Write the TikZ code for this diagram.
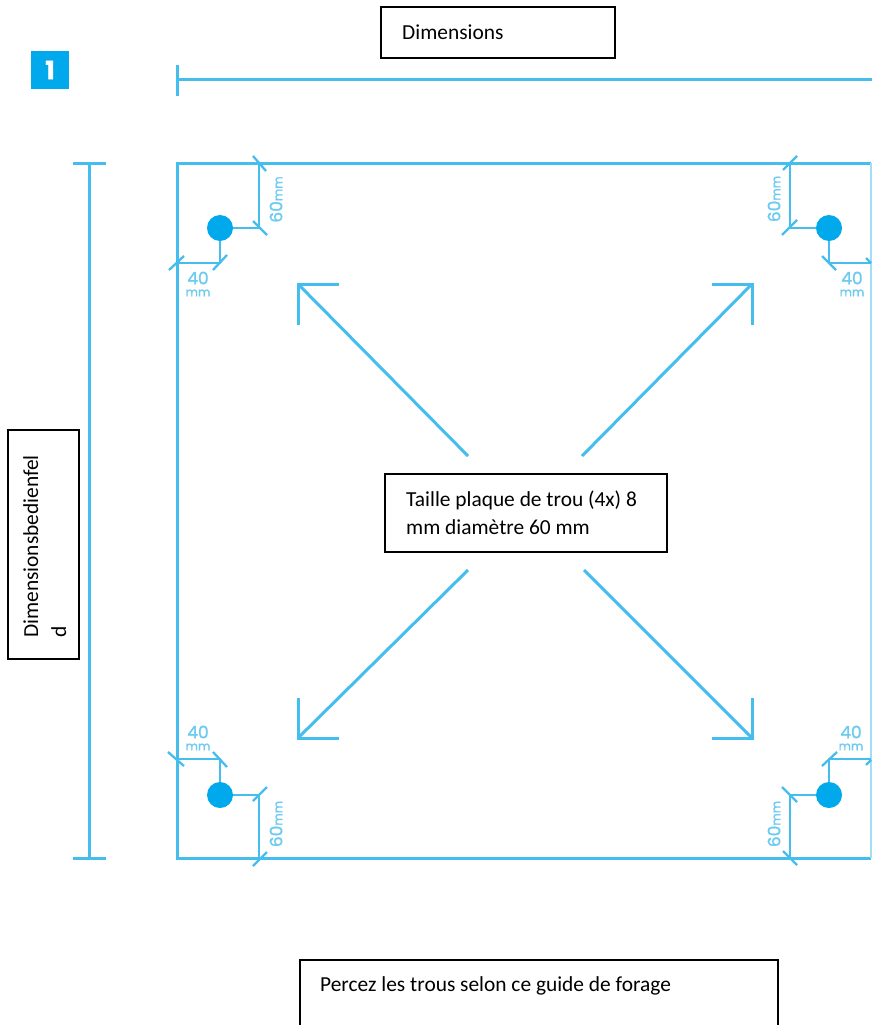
\documentclass[tikz,border=0pt]{standalone}
\usepackage{fontspec}
\setmainfont{Carlito}
\newfontfamily\dimfont[FakeBold=1.2]{Poppins}
\definecolor{cyanline}{HTML}{45BEEE}
\definecolor{cyanfill}{HTML}{00A9EC}
\definecolor{cyantext}{HTML}{6CCBF0}
\newcommand{\dimnumtxt}[2]{{\dimfont\fontsize{17pt}{17pt}\selectfont #1\fontsize{12pt}{12pt}\selectfont #2}}
\tikzset{
  plan/.style={draw=cyanline,line width=3pt},
  thin plan/.style={draw=cyanline,line width=2.3pt},
  hole/.style={circle,fill=cyanfill,minimum size=26pt,inner sep=0pt},
  textbox/.style={draw=black,line width=1.1pt,fill=white},
  boxtext/.style={font=\fontsize{21.4pt}{28pt}\selectfont,text=black,anchor=west,inner sep=0pt,align=left},
  dimnum/.style={font=\dimfont\fontsize{17pt}{17pt}\selectfont,text=cyantext,inner sep=0pt},
  dimunit/.style={font=\dimfont\fontsize{12pt}{12pt}\selectfont,text=cyantext,inner sep=0pt},
  dimrot/.style={text=cyantext,inner sep=0pt,rotate=90},
}
\begin{document}
\begin{tikzpicture}[x=1pt,y=-1pt]
\useasboundingbox (0,0) rectangle (872,1025);
\fill[white] (0,0) rectangle (872,1025);
% badge
\node[fill=cyanfill,minimum size=38pt,inner sep=0pt,text=white,font=\dimfont\bfseries\fontsize{25pt}{25pt}\selectfont] (badge) at (50,70) {1};
% overall dimensions
\draw[plan] (177,65) -- (177,96);
\draw[plan] (177,79) -- (872,79);
\draw[plan] (73,163) -- (106,163);
\draw[plan] (89,163) -- (89,858);
\draw[plan] (73,858) -- (106,858);
% plate
\draw[plan,line cap=butt,line join=miter] (871,163) -- (177,163) -- (177,858) -- (871,858);
\draw[draw=cyanline!50,line width=1.2pt] (871,163) -- (871,858);
% holes
\node[hole] (h1) at (220,228) {};
\node[hole] (h2) at (829,228) {};
\node[hole] (h3) at (220,795) {};
\node[hole] (h4) at (829,795) {};
% top-left
\draw[thin plan] (259,163) -- (259,228) -- (h1);
\draw[thin plan] (253,156) -- (266,171);
\draw[thin plan] (253,221) -- (267,235);
\draw[thin plan] (177,263) -- (220,263) -- (h1);
\draw[thin plan] (169,270) -- (184,256);
\draw[thin plan] (213,270) -- (227,255);
% top-right
\draw[thin plan] (790,163) -- (790,228) -- (h2);
\draw[thin plan] (783,170) -- (797,156);
\draw[thin plan] (782,235) -- (797,220);
\draw[thin plan] (871,263) -- (829,263) -- (h2);
\draw[thin plan] (822,256) -- (836,270);
\draw[thin plan] (866,258) -- (871,263);
% bottom-left
\draw[thin plan] (177,759) -- (220,759) -- (h3);
\draw[thin plan] (168,752) -- (184,766);
\draw[thin plan] (213,752) -- (227,767);
\draw[thin plan] (259,858) -- (259,795) -- (h3);
\draw[thin plan] (253,801) -- (267,787);
\draw[thin plan] (253,866) -- (267,852);
% bottom-right
\draw[thin plan] (871,759) -- (829,759) -- (h4);
\draw[thin plan] (822,766) -- (837,752);
\draw[thin plan] (866,765) -- (871,760);
\draw[thin plan] (790,858) -- (790,795) -- (h4);
\draw[thin plan] (782,787) -- (797,802);
\draw[thin plan] (783,851) -- (797,865);
% labels
\node[dimrot] (a1) at (276,199.5) {\dimnumtxt{60}{mm}};
\node[dimrot] (a2) at (774,199) {\dimnumtxt{60}{mm}};
\node[dimrot] (a3) at (276,824) {\dimnumtxt{60}{mm}};
\node[dimrot] (a4) at (774,824) {\dimnumtxt{60}{mm}};
\node[dimnum] (b1) at (198,278) {40};
\node[dimunit] (b1u) at (198,293) {mm};
\node[dimnum] (b2) at (852,278) {40};
\node[dimunit] (b2u) at (852,293) {mm};
\node[dimnum] (b3) at (198,732) {40};
\node[dimunit] (b3u) at (198,747) {mm};
\node[dimnum] (b4) at (851,732) {40};
\node[dimunit] (b4u) at (851,747) {mm};
% arrows
\draw[plan] (339,284) -- (298,284) -- (298,325);
\draw[plan] (298,284) -- (468,456);
\draw[plan] (712,284) -- (752,284) -- (752,325);
\draw[plan] (752,284) -- (582,456);
\draw[plan] (339,738) -- (298,738) -- (298,698);
\draw[plan] (298,738) -- (468,570);
\draw[plan] (712,738) -- (752,738) -- (752,698);
\draw[plan] (752,738) -- (584,570);
% text boxes
\draw[textbox] (381,7) rectangle (615,58);
\node[boxtext] (t1) at (402,32) {Dimensions};
\draw[textbox] (385,474) rectangle (667,552);
\node[boxtext] (t2) at (406,512.5) {Taille plaque de trou (4x) 8\\mm diamètre 60 mm};
\draw[textbox] (8,430) rectangle (79,659);
\node[boxtext,rotate=90,anchor=north west] (t3) at (23,638) {Dimensionsbedienfel\\d};
\draw[textbox] (300,1030) -- (300,960) -- (778,960) -- (778,1030);
\node[boxtext] (t4) at (320,986) {Percez les trous selon ce guide de forage};
\end{tikzpicture}
\end{document}
